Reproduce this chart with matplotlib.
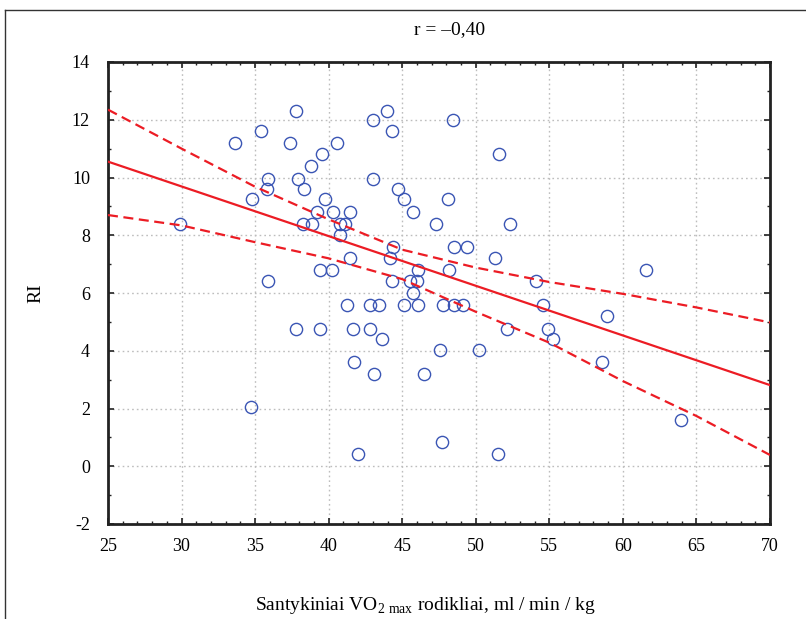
import matplotlib
matplotlib.use("Agg")
import matplotlib.pyplot as plt
from matplotlib.lines import Line2D
from matplotlib.ticker import MultipleLocator

plt.rcParams['font.family'] = ['Liberation Serif', 'DejaVu Serif']
plt.rcParams['mathtext.fontset'] = 'custom'
plt.rcParams['mathtext.rm'] = 'Liberation Serif'
plt.rcParams['axes.unicode_minus'] = False

# scatter data
vo2 = [29.9, 33.6, 35.4, 34.8, 35.8, 35.9, 35.9, 34.7, 37.4, 37.8,
       37.9, 38.3, 38.8, 39.55, 40.6, 39.75, 39.2, 40.3, 38.25, 38.9,
       40.8, 41.1, 40.8, 41.45, 39.4, 40.2, 37.8, 39.4, 43.97, 43.0,
       44.3, 48.45, 51.6, 43.0, 44.7, 45.1, 48.1, 45.7, 47.3, 52.3,
       44.4, 48.5, 49.4, 44.2, 41.45, 51.3, 46.1, 48.2, 44.3, 45.5,
       46.0, 54.1, 45.7, 41.25, 42.8, 43.4, 45.1, 46.1, 47.8, 48.5,
       49.1, 54.6, 41.65, 42.8, 43.6, 54.9, 55.25, 47.6, 50.2, 41.7,
       43.1, 46.5, 47.7, 42.0, 51.5, 52.1, 58.9, 58.6, 63.95, 61.6]
ri = [8.4, 11.2, 11.6, 9.25, 9.6, 9.95, 6.42, 2.05, 11.2, 12.3,
      9.95, 9.6, 10.4, 10.8, 11.2, 9.25, 8.8, 8.8, 8.4, 8.4,
      8.4, 8.4, 8.0, 8.8, 6.8, 6.8, 4.75, 4.75, 12.3, 12.0,
      11.6, 12.0, 10.8, 9.95, 9.6, 9.25, 9.25, 8.8, 8.4, 8.4,
      7.6, 7.6, 7.6, 7.2, 7.2, 7.2, 6.8, 6.8, 6.42, 6.42,
      6.42, 6.42, 6.0, 5.6, 5.6, 5.6, 5.6, 5.6, 5.6, 5.6,
      5.6, 5.6, 4.75, 4.75, 4.4, 4.75, 4.4, 4.03, 4.03, 3.6,
      3.2, 3.2, 0.84, 0.42, 0.42, 4.75, 5.2, 3.6, 1.6, 6.8]

# regression line and 95% band, read at x = 25..70
fit_x = [25, 70]
fit_y = [10.55, 2.81]
band_x = [25, 30, 35, 40, 45, 50, 55, 60, 65, 70]
band_hi = [12.35, 11.0, 9.68, 8.55, 7.5, 6.88, 6.38, 5.97, 5.5, 4.98]
band_lo = [8.70, 8.34, 7.76, 7.2, 6.48, 5.35, 4.28, 2.95, 1.74, 0.39]

red = '#ec1c24'
blue = '#3a55b4'

fig = plt.figure(figsize=(8.06, 6.19), dpi=100)
ax = fig.add_axes([108/806, 1-524/619, (770-108)/806, (524-62)/619])

ax.plot(vo2, ri, 'o', ms=8.8, mfc='none', mec=blue, mew=1.0, zorder=3)
ax.plot(fit_x, fit_y, color=red, lw=1.6, zorder=4)
ax.plot(band_x, band_hi, color=red, lw=1.6, ls=(0, (4.5, 2.5)), zorder=4)
ax.plot(band_x, band_lo, color=red, lw=1.6, ls=(0, (4.5, 2.5)), zorder=4)

ax.set_xlim(25, 70)
ax.set_ylim(-2, 14)
ax.xaxis.set_major_locator(MultipleLocator(5))
ax.xaxis.set_minor_locator(MultipleLocator(1))
ax.yaxis.set_major_locator(MultipleLocator(2))
ax.yaxis.set_minor_locator(MultipleLocator(1))
ax.tick_params(which='both', direction='in', top=True, right=True,
               labelsize=13, color='#222222')
ax.tick_params(which='major', length=4.5, width=1.2, pad=10)
ax.tick_params(axis='y', which='major', pad=13)
ax.tick_params(which='minor', length=2.5, width=1)
ax.grid(which='major', ls=(0, (1.2, 2.2)), color='#bdbdbd', lw=1)
for s in ax.spines.values():
    s.set_linewidth(2)
    s.set_color('#222222')

ax.set_ylabel('RI', fontsize=14, labelpad=20)
fig.text(425/806, 1-605/619,
         r'Santykiniai VO$_{2\ \mathregular{max}}$ rodikliai, ml / min / kg',
         ha='center', va='center', fontsize=14)
fig.text(450/806, 1-30/619, 'r = \u20130,40', ha='center', va='center', fontsize=14)

# outer frame
fig.add_artist(Line2D([5/806, 5/806], [0, 1-10/619], transform=fig.transFigure,
                      color='#333333', lw=1))
fig.add_artist(Line2D([5/806, 1], [1-10/619, 1-10/619], transform=fig.transFigure,
                      color='#333333', lw=1))

plt.savefig('out.png', dpi=100)
